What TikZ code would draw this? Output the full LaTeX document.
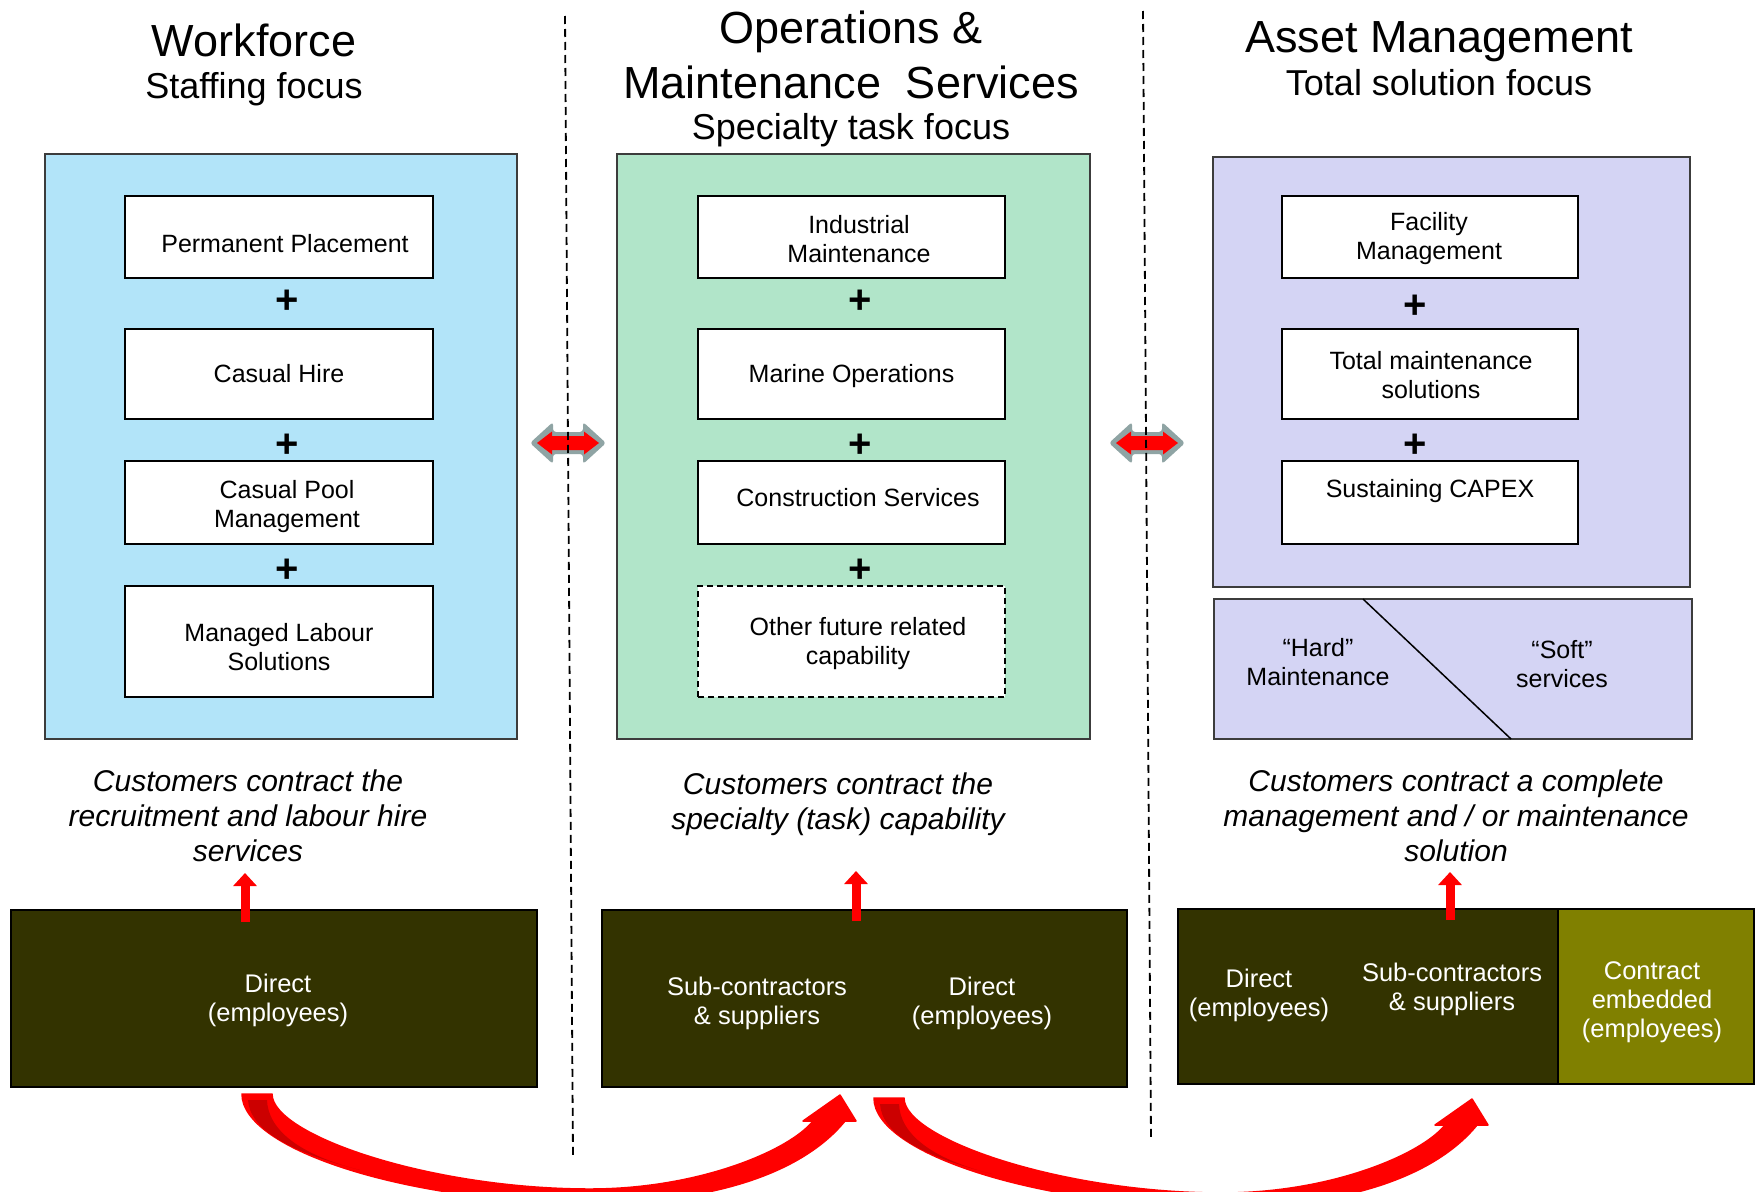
\documentclass[tikz,border=0pt]{standalone}
\usepackage{fontspec}
\setmainfont{Liberation Sans}
\usetikzlibrary{arrows.meta}
\definecolor{blueF}{RGB}{178,228,249}
\definecolor{greenF}{RGB}{177,229,201}
\definecolor{purpF}{RGB}{212,212,244}
\definecolor{darkB}{RGB}{51,51,0}
\definecolor{oliveB}{RGB}{128,128,0}
\definecolor{grayA}{RGB}{143,164,164}
\definecolor{redD}{RGB}{204,0,0}
\definecolor{frameG}{RGB}{60,60,60}
\begin{document}
\begin{tikzpicture}[x=1pt,y=-1pt,
  panel/.style={draw=frameG, line width=1.5pt, inner sep=0pt, outer sep=0pt},
  box/.style={draw=black, line width=1.5pt, fill=white, inner sep=0pt, outer sep=0pt},
  btext/.style={align=center, font=\fontsize{25}{29}\selectfont, inner sep=0pt},
  wtext/.style={align=center, font=\fontsize{25.5}{29}\selectfont, inner sep=0pt, text=white},
  plus/.style={font=\fontsize{40}{40}\selectfont\bfseries, inner sep=0pt},
  titleA/.style={font=\fontsize{45}{50}\selectfont, anchor=base, inner sep=0pt},
  titleB/.style={font=\fontsize{36}{40}\selectfont, anchor=base, inner sep=0pt},
  caption/.style={align=center, font=\fontsize{30}{35}\selectfont\itshape, inner sep=0pt},
  darkbox/.style={draw=black, line width=1.5pt, inner sep=0pt, outer sep=0pt},
  divider/.style={black, line width=1.8pt, dash pattern=on 8pt off 5pt},
  uparrow/.style={red, line width=9pt, -{Triangle[width=23pt,length=13pt]}},
  band/.style={fill=red, draw=red, line width=1.5pt, line join=round},
]
\useasboundingbox (0,0) rectangle (1760,1191);
\fill[white] (0,0) rectangle (1760,1191);

% titles
\node[titleA] (t1a) at (254,56) {Workforce};
\node[titleB] (t1b) at (254,98) {Staffing focus};
\node[titleA] (t2a) at (851,43) {Operations \&};
\node[titleA] (t2b) at (851,98) {Maintenance\ \ Services};
\node[titleB] (t2c) at (851,139) {Specialty task focus};
\node[titleA] (t3a) at (1439,52) {Asset Management};
\node[titleB] (t3b) at (1439,95) {Total solution focus};

% panels
\node[panel, fill=blueF, minimum width=472pt, minimum height=585pt] (pblue) at (281,446.5) {};
\node[panel, fill=greenF, minimum width=473pt, minimum height=585pt] (pgreen) at (853.5,446.5) {};
\node[panel, fill=purpF, minimum width=477pt, minimum height=430pt] (ppurp) at (1451.5,372) {};
\node[panel, fill=purpF, minimum width=478pt, minimum height=140pt] (phs) at (1453,669) {};

% left column boxes
\node[box, minimum width=308pt, minimum height=82pt] (pp) at (279,237) {};
\node[box, minimum width=308pt, minimum height=90pt] (ch) at (279,374) {};
\node[box, minimum width=308pt, minimum height=83pt] (cp) at (279,502.5) {};
\node[box, minimum width=308pt, minimum height=111pt] (ml) at (279,641.5) {};
\node[btext] (ppt) at (285,243.5) {Permanent Placement};
\node[btext] (cht) at (279,374) {Casual Hire};
\node[btext] (cpt) at (287,507) {Casual Pool\\Management};
\node[btext] (mlt) at (279,647) {Managed Labour\\Solutions};
\node[plus] (pl1) at (287,302) {+};
\node[plus] (pl2) at (287,446) {+};
\node[plus] (pl3) at (287,571) {+};

% middle column boxes
\node[box, minimum width=307pt, minimum height=82pt] (im) at (851.5,237) {};
\node[box, minimum width=307pt, minimum height=90pt] (mo) at (851.5,374) {};
\node[box, minimum width=307pt, minimum height=83pt] (cs) at (851.5,502.5) {};
\node[box, dashed, dash pattern=on 6pt off 4pt, minimum width=307pt, minimum height=111pt] (of) at (851.5,641.5) {};
\node[btext] (imt) at (859,239) {Industrial\\Maintenance};
\node[btext] (mot) at (851.5,376) {Marine Operations};
\node[btext] (cst) at (858,498) {Construction Services};
\node[btext] (oft) at (858,643.5) {Other future related\\capability};
\node[plus] (pm1) at (860,302) {+};
\node[plus] (pm2) at (860,446) {+};
\node[plus] (pm3) at (860,571) {+};

% right column boxes
\node[box, minimum width=296pt, minimum height=82pt] (fm) at (1430,237) {};
\node[box, minimum width=296pt, minimum height=90pt] (tm) at (1430,374) {};
\node[box, minimum width=296pt, minimum height=83pt] (sc) at (1430,502.5) {};
\node[btext] (fmt) at (1429,239) {Facility\\Management};
\node[btext] (tmt) at (1431,375) {Total maintenance\\solutions};
\node[btext] (sct) at (1430,491) {Sustaining CAPEX};
\node[plus] (pr1) at (1415,307) {+};
\node[plus] (pr2) at (1415,446) {+};

% hard / soft
\draw[black, line width=1.5pt] (1363,599) -- (1511,739);
\node[btext] (hard) at (1318,662) {“Hard”\\Maintenance};
\node[btext] (soft) at (1562,664) {“Soft”\\services};

% double arrows
\foreach \cx in {568,1147}{
  \fill[grayA, rounded corners=3pt] (\cx-38,443) -- (\cx-15,422) -- (\cx-15,432) -- (\cx+15,432) -- (\cx+15,422) -- (\cx+38,443) -- (\cx+15,464) -- (\cx+15,454) -- (\cx-15,454) -- (\cx-15,464) -- cycle;
  \fill[red] (\cx-31,443) -- (\cx-16,431.5) -- (\cx-16,436) -- (\cx+16,436) -- (\cx+16,431.5) -- (\cx+31,443) -- (\cx+16,454.5) -- (\cx+16,450) -- (\cx-16,450) -- (\cx-16,454.5) -- cycle;
}

% dividers
\draw[divider] (565,16) -- (573,1157);
\draw[divider] (1143,11) -- (1151,1140);

% captions
\node[caption] (c1) at (248,816) {Customers contract the\\recruitment and labour hire\\services};
\node[caption] (c2) at (838,804) {Customers contract the\\specialty (task) capability};
\node[caption] (c3) at (1456,816) {Customers contract a complete\\management and / or maintenance\\solution};

% bottom boxes
\node[darkbox, fill=darkB, minimum width=526pt, minimum height=177pt] (b1) at (274,998.5) {};
\node[darkbox, fill=darkB, minimum width=525pt, minimum height=177pt] (b2) at (864.5,998.5) {};
\node[darkbox, fill=darkB, minimum width=380pt, minimum height=175pt] (b3) at (1368,996.5) {};
\node[darkbox, fill=oliveB, minimum width=196pt, minimum height=175pt] (b4) at (1656,996.5) {};

\node[wtext] (b1t) at (278,1000.5) {Direct\\(employees)};
\node[wtext] (b2s) at (757,1003.5) {Sub-contractors\\\& suppliers};
\node[wtext] (b2d) at (982,1003.5) {Direct\\(employees)};
\node[wtext] (b3d) at (1259,995.5) {Direct\\(employees)};
\node[wtext] (b3s) at (1452,989.5) {Sub-contractors\\\& suppliers};
\node[wtext] (b4t) at (1652,1002.5) {Contract\\embedded\\(employees)};

% up arrows
\coordinate (u1) at (245,922); \coordinate (v1) at (245,873);
\coordinate (u2) at (856,921); \coordinate (v2) at (856,871);
\coordinate (u3) at (1450,920); \coordinate (v3) at (1450,872);
\draw[uparrow] (u1) -- (v1);
\draw[uparrow] (u2) -- (v2);
\draw[uparrow] (u3) -- (v3);

% curved arrows
\foreach \sx/\sy in {0/0,632/4}{
\begin{scope}[shift={(\sx,\sy)}]
\path[band] (242,1094) .. controls (242,1150) and (410,1203) .. (590,1203)
  .. controls (720,1203) and (805,1170) .. (845,1121)
  -- (856,1121) -- (840,1095) -- (803,1121) -- (813,1121)
  .. controls (790,1150) and (700,1189) .. (590,1189)
  .. controls (430,1189) and (272,1135) .. (272,1094) -- cycle;
\fill[redD] (248,1100) -- (267,1100) .. controls (268,1130) and (300,1155) .. (360,1170)
  .. controls (290,1152) and (250,1130) .. (248,1100) -- cycle;
\end{scope}
}
\end{tikzpicture}
\end{document}
